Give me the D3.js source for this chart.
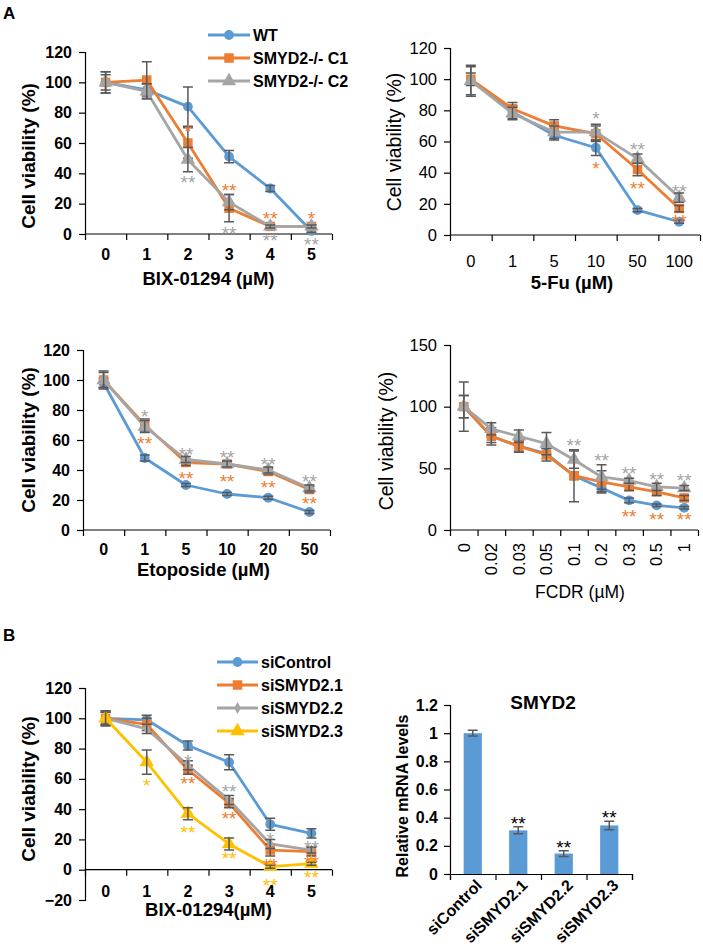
<!DOCTYPE html>
<html><head><meta charset="utf-8">
<script src="https://cdn.jsdelivr.net/npm/d3@7"></script>
<style>
body{margin:0;background:#fff;}
svg{font-family:"Liberation Sans",Arial,sans-serif;}
</style></head>
<body><svg id="c" width="703" height="946"></svg>
<script>
// ---------- DATA ----------
const BLUE="#5b9bd5", ORANGE="#ed7d31", GRAY="#a5a5a5", YELLOW="#ffc000";

const bixCats=["0","1","2","3","4","5"];
const bixWT=[100,95,84,51,30,2], bixWTErr=[7,4,13,4,2,1];
const bixC1=[100,101.5,60,17,5,5], bixC1Err=[5,12,10,9,1,1];
const bixC2=[100,94,49,21,5,5], bixC2Err=[7,5,8,5,1,1];
const bixStars=[[2,70,"*","C1"],[2,36,"**","C2"],[3,31,"**","C1"],[3,2.6,"**","C2"],[4,12.5,"**","C1"],[4,-2,"**","C2"],[5,12.5,"*","C1"],[5,-4.6,"**","C2"]];

const fuCats=["0","1","5","10","50","100"];
const fuWT=[99,79,64,56,16,8.5], fuWTErr=[9,4,3,5,1,1];
const fuC1=[100,81,70,65,42,17], fuC1Err=[4,4,4,5,4,2];
const fuC2=[99,78,66,66,49,24], fuC2Err=[10,4,4,5,3,3];
const fuStars=[[3,77,"*","C2"],[3,45,"*","C1"],[4,57,"**","C2"],[4,32,"**","C1"],[5,30,"**","C2"],[5,11,"**","C1"]];

const etoCats=["0","1","5","10","20","50"];
const etoWT=[98,48,30,24,21.5,12], etoWTErr=[3,2,1,1,1,1];
const etoC1=[100,70,45,44,39,27], etoC1Err=[5,4,2,2,2,2];
const etoC2=[100,69,47,44,40,28], etoC2Err=[6,4,2,2,2,2];
const etoStars=[[1,78,"*","C2"],[1,60,"**","C1"],[2,53,"**","C2"],[2,37,"**","C1"],[3,51,"**","C2"],[3,35,"**","C1"],[4,46,"**","C2"],[4,31,"**","C1"],[5,35,"**","C2"],[5,20,"**","C1"]];

const fcdrCats=["0","0.02","0.03","0.05","0.1","0.2","0.3","0.5","1"];
const fcdrWT=[100,76,68,62,44,34,24,20,18], fcdrWTErr=[9,5,4,4,3,3,2,1,1];
const fcdrC1=[100,76,68,61,44,39,35,31,26], fcdrC1Err=[9,7,5,5,21,9,3,3,2];
const fcdrC2=[100,82,76,70,57,43,40,35,34], fcdrC2Err=[20,5,5,9,7,10,2,3,2];
const fcdrStars=[[4,71,"**","C2"],[5,59,"**","C2"],[6,49,"**","C2"],[7,44,"**","C2"],[8,43,"**","C2"],[6,14,"**","C1"],[7,11,"**","C1"],[8,11,"**","C1"]];

const siCats=["0","1","2","3","4","5"];
const siCtrl=[100,99,82,71,30,24], siCtrlErr=[4,3,3,5,4,3];
const si21=[100,96,66,44,13,12], si21Err=[5,4,3,3,4,3];
const si22=[100,93,69,46,17,13], si22Err=[4,3,3,3,3,2];
const si23=[100,71,37,17,2,4], si23Err=[5,8,4,4,1,1];
const siStars=[[1,58,"*","s3"],[2,74,"*","s2"],[2,59,"**","s1"],[2,27,"**","s3"],[3,54,"**","s2"],[3,36,"**","s1"],[3,10,"**","s3"],[4,22,"*","s2"],[4,5,"**","s1"],[4,-8,"**","s3"],[5,17,"**","s2"],[5,7,"**","s1"],[5,-3,"**","s3"]];

const barCats=["siControl","siSMYD2.1","siSMYD2.2","siSMYD2.3"];
const barVals=[1.0,0.31,0.145,0.345], barErr=[0.02,0.025,0.02,0.03];
const barStars=["","**","**","**"];

// ---------- DRAW ----------
const svg=d3.select("#c");
const ERR="#595959";
const STARFS=19;

function marker(type){
  const m={circle:[d3.symbolCircle,75],square:[d3.symbolSquare,90],triangle:[d3.symbolTriangle,90],diamond:[d3.symbolDiamond,40]}[type];
  return d3.symbol().type(m[0]).size(m[1]);
}

function linePanel(c){
  const g=svg.append("g");
  const fw=c.weight;
  const x=d3.scaleBand().domain(c.cats).range(c.xRange);
  const y=d3.scaleLinear().domain(c.yDomain).range(c.yRange);
  const xb=d3.scaleLinear().domain([0,c.cats.length]).range(c.xRange);
  const ya=g.append("g").attr("transform",`translate(${c.xRange[0]},0)`)
    .call(d3.axisLeft(y).tickValues(c.yTicks).tickSize(6).tickPadding(7).tickFormat(d3.format("d")));
  ya.select(".domain").attr("stroke","#000").attr("stroke-width",1.2);
  ya.selectAll(".tick line").attr("stroke","#000").attr("stroke-width",1.2);
  ya.selectAll("text").attr("font-size",c.tickFs).attr("font-weight",fw).attr("fill","#000").attr("font-family","Liberation Sans, Arial, sans-serif");
  const xa=g.append("g").attr("transform",`translate(0,${y(0)})`)
    .call(d3.axisBottom(xb).ticks(c.cats.length).tickSize(6).tickFormat(""));
  xa.select(".domain").attr("stroke","#000").attr("stroke-width",1.2).attr("d",`M${c.xRange[0]},0H${c.xRange[1]}`);
  xa.selectAll(".tick line").attr("stroke","#000").attr("stroke-width",1.2);
  const xl=g.append("g").attr("transform",`translate(0,${c.xLabelY})`)
    .call(d3.axisBottom(x).tickSize(0).tickPadding(0));
  xl.select(".domain").remove();
  xl.selectAll("text").attr("font-size",c.tickFs).attr("font-weight",fw).attr("fill","#000").attr("font-family","Liberation Sans, Arial, sans-serif");
  if(c.rotLabels){
    xl.selectAll("text").attr("transform","rotate(-90)").attr("x",0).attr("y",0).attr("dy","0.35em").style("text-anchor","end");
  }
  g.append("text").attr("x",(c.xRange[0]+c.xRange[1])/2+c.xTitleDx).attr("y",c.xTitleY).attr("text-anchor","middle")
    .attr("font-size",c.titleFs).attr("font-weight",c.xTitleWeight||fw).text(c.xTitle);
  g.append("text").attr("transform",`translate(${c.yTitleX},${c.yTitleY}) rotate(-90)`).attr("text-anchor","middle")
    .attr("dy","0.35em").attr("font-size",c.ytitleFs).attr("font-weight",fw).text("Cell viability (%)");
  const line=d3.line().x((d,i)=>x(c.cats[i])+x.bandwidth()/2).y(d=>y(d));
  c.series.forEach(s=>{
    g.append("path").datum(s.vals).attr("d",line).attr("fill","none").attr("stroke",s.color).attr("stroke-width",2.8).attr("stroke-linejoin","round");
    g.selectAll(null).data(s.vals).enter().append("path")
      .attr("transform",(d,i)=>`translate(${x(c.cats[i])+x.bandwidth()/2},${y(d)})`)
      .attr("d",marker(s.marker)).attr("fill",s.color);
    const eg=g.append("g").attr("stroke",ERR).attr("stroke-width",1.5).attr("fill","none");
    s.vals.forEach((v,i)=>{
      const cx=x(c.cats[i])+x.bandwidth()/2, y1=y(v+s.errs[i]), y2=y(v-s.errs[i]);
      eg.append("path").attr("d",`M${cx},${y1}V${y2}M${cx-5},${y1}H${cx+5}M${cx-5},${y2}H${cx+5}`);
    });
  });
  const colOf={};c.series.forEach(s=>colOf[s.key]=s.color);
  g.selectAll(null).data(c.stars).enter().append("text")
    .attr("x",d=>x(c.cats[d[0]])+x.bandwidth()/2).attr("y",d=>y(d[1])+10)
    .attr("text-anchor","middle").attr("font-size",STARFS).attr("fill",d=>colOf[d[3]]).text(d=>d[2]);
  if(c.legend){
    c.series.forEach((s,i)=>{
      const ly=c.legend.y+i*c.legend.dy;
      g.append("line").attr("x1",c.legend.x1).attr("x2",c.legend.x2).attr("y1",ly).attr("y2",ly).attr("stroke",s.color).attr("stroke-width",3);
      g.append("path").attr("transform",`translate(${(c.legend.x1+c.legend.x2)/2},${ly})`).attr("d",marker(s.marker)).attr("fill",s.color);
      g.append("text").attr("x",c.legend.x2+3).attr("y",ly).attr("dy","0.36em").attr("font-size",16).attr("font-weight","bold").text(s.name);
    });
  }
}

const ko=(a,ae,b,be,cc,ce)=>[
  {key:"WT",name:"WT",vals:a,errs:ae,color:BLUE,marker:"circle"},
  {key:"C1",name:"SMYD2-/- C1",vals:b,errs:be,color:ORANGE,marker:"square"},
  {key:"C2",name:"SMYD2-/- C2",vals:cc,errs:ce,color:GRAY,marker:"triangle"}];

linePanel({cats:bixCats,series:ko(bixWT,bixWTErr,bixC1,bixC1Err,bixC2,bixC2Err),stars:bixStars,
  xRange:[85,332],yDomain:[0,120],yRange:[234,52],yTicks:d3.range(0,121,20),weight:"bold",tickFs:16,titleFs:18.5,ytitleFs:19,
  xLabelY:249,xTitle:"BIX-01294 (µM)",xTitleY:285,xTitleDx:0,yTitleX:28,yTitleY:156,
  legend:{x1:208,x2:250,y:35,dy:23}});

linePanel({cats:fuCats,series:ko(fuWT,fuWTErr,fuC1,fuC1Err,fuC2,fuC2Err),stars:fuStars,
  xRange:[450,700],yDomain:[0,120],yRange:[235,48],yTicks:d3.range(0,121,20),weight:"normal",tickFs:16.5,titleFs:18.5,ytitleFs:19.5,
  xLabelY:255,xTitle:"5-Fu (µM)",xTitleY:289,xTitleDx:-3,xTitleWeight:"bold",yTitleX:394,yTitleY:142});

linePanel({cats:etoCats,series:ko(etoWT,etoWTErr,etoC1,etoC1Err,etoC2,etoC2Err),stars:etoStars,
  xRange:[83,330],yDomain:[0,120],yRange:[530,350],yTicks:d3.range(0,121,20),weight:"bold",tickFs:16,titleFs:18.5,ytitleFs:19,
  xLabelY:544,xTitle:"Etoposide (µM)",xTitleY:576,xTitleDx:-3,yTitleX:28,yTitleY:440});

linePanel({cats:fcdrCats,series:ko(fcdrWT,fcdrWTErr,fcdrC1,fcdrC1Err,fcdrC2,fcdrC2Err),stars:fcdrStars,
  xRange:[450,698],yDomain:[0,150],yRange:[530,345],yTicks:[0,50,100,150],weight:"normal",tickFs:16.5,titleFs:17.5,ytitleFs:19.5,
  xLabelY:543,rotLabels:true,xTitle:"FCDR (µM)",xTitleY:598,xTitleDx:6,yTitleX:386,yTitleY:441});

linePanel({cats:siCats,series:[
    {key:"s0",name:"siControl",vals:siCtrl,errs:siCtrlErr,color:BLUE,marker:"circle"},
    {key:"s1",name:"siSMYD2.1",vals:si21,errs:si21Err,color:ORANGE,marker:"square"},
    {key:"s2",name:"siSMYD2.2",vals:si22,errs:si22Err,color:GRAY,marker:"diamond"},
    {key:"s3",name:"siSMYD2.3",vals:si23,errs:si23Err,color:YELLOW,marker:"triangle"}],
  stars:siStars,xRange:[85,332],yDomain:[-20,120],yRange:[900,688],yTicks:d3.range(-20,121,20),weight:"bold",tickFs:16,titleFs:18.5,ytitleFs:19,
  xLabelY:886,xTitle:"BIX-01294(µM)",xTitleY:916,xTitleDx:0,yTitleX:28,yTitleY:789,
  legend:{x1:217,x2:258,y:662,dy:23}});

svg.append("text").attr("x",3).attr("y",19).attr("font-size",17).attr("font-weight","bold").text("A");
svg.append("text").attr("x",3).attr("y",641).attr("font-size",17).attr("font-weight","bold").text("B");

(function(){
  const g=svg.append("g");
  const x=d3.scaleBand().domain(barCats).range([450,632]).paddingInner(0.6).paddingOuter(0.3);
  const xb=d3.scaleLinear().domain([0,barCats.length]).range([450,632]);
  const y=d3.scaleLinear().domain([0,1.2]).range([874,705]);
  const ya=g.append("g").attr("transform","translate(450,0)")
    .call(d3.axisLeft(y).tickValues([0,0.2,0.4,0.6,0.8,1,1.2]).tickSize(6).tickPadding(6).tickFormat(d=>String(+d.toFixed(1))));
  ya.selectAll("text").attr("font-size",16).attr("font-weight","bold").attr("fill","#000");
  ya.selectAll(".domain,.tick line").attr("stroke","#000").attr("stroke-width",1.2);
  g.selectAll(null).data(barVals).enter().append("rect")
    .attr("x",(d,i)=>x(barCats[i])).attr("width",x.bandwidth()).attr("y",d=>y(d)).attr("height",d=>y(0)-y(d)).attr("fill",BLUE);
  const xa=g.append("g").attr("transform","translate(0,874)").call(d3.axisBottom(xb).ticks(4).tickSize(6).tickFormat(""));
  xa.selectAll(".domain,.tick line").attr("stroke","#000").attr("stroke-width",1.2);
  const xl=g.append("g").attr("transform","translate(0,884)").call(d3.axisBottom(x).tickSize(0).tickPadding(0));
  xl.select(".domain").remove();
  xl.selectAll("text").attr("font-size",16).attr("font-weight","bold").attr("fill","#000")
    .attr("transform","rotate(-45)").attr("x",0).attr("y",0).attr("dx","0.35em").attr("dy","0.55em").style("text-anchor","end");
  const eg=g.append("g").attr("stroke",ERR).attr("stroke-width",1.5).attr("fill","none");
  barVals.forEach((v,i)=>{
    const cx=x(barCats[i])+x.bandwidth()/2, y1=y(v+barErr[i]), y2=y(v-barErr[i]);
    eg.append("path").attr("d",`M${cx},${y1}V${y2}M${cx-5},${y1}H${cx+5}M${cx-5},${y2}H${cx+5}`);
  });
  g.selectAll(null).data(barVals).enter().append("text")
    .attr("x",(d,i)=>x(barCats[i])+x.bandwidth()/2).attr("y",(d,i)=>y(d+barErr[i])+3)
    .attr("text-anchor","middle").attr("font-size",STARFS).attr("fill","#000").text((d,i)=>barStars[i]);
  g.append("text").attr("x",543).attr("y",709).attr("text-anchor","middle").attr("font-size",19).attr("font-weight","bold").text("SMYD2");
  g.append("text").attr("transform","translate(402,796) rotate(-90)").attr("text-anchor","middle").attr("dy","0.35em")
    .attr("font-size",16).attr("font-weight","bold").text("Relative mRNA levels");
})();
</script></body></html>
